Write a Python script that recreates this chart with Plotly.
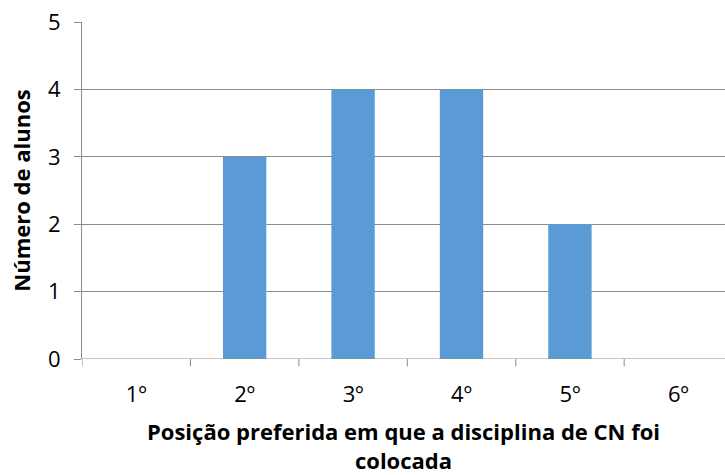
import plotly.graph_objects as go

# Data: number of students by preferred position of the CN subject
posicoes = ["1º", "2º", "3º", "4º", "5º", "6º"]
alunos = [0, 3, 4, 4, 2, 0]
y_ticks = [0, 1, 2, 3, 4, 5]

FONT = "Open Sans, Liberation Sans, sans-serif"
GRID = "#8c8c8c"

fig = go.Figure(
    go.Bar(
        x=list(range(len(posicoes))),
        y=alunos,
        marker=dict(color="#5B9BD5", line=dict(width=0)),
        width=0.4,
        hoverinfo="skip",
    )
)

fig.update_layout(
    width=725,
    height=475,
    margin=dict(l=82, r=0, t=22, b=116),
    plot_bgcolor="white",
    paper_bgcolor="white",
    showlegend=False,
    font=dict(family=FONT, color="#000000"),
)

fig.update_xaxes(
    tickmode="array",
    tickvals=list(range(len(posicoes))),
    ticktext=posicoes,
    range=[-0.5, 5.43],
    showgrid=False,
    zeroline=False,
    showline=False,
    ticks="",
    tickfont=dict(size=22),
    ticklabelstandoff=20,
    title=dict(
        text="<b>Posição preferida em que a disciplina de CN foi<br>colocada</b>",
        font=dict(size=22),
        standoff=22,
    ),
)

fig.update_yaxes(
    range=[0, 5],
    tickmode="array",
    tickvals=y_ticks,
    showgrid=True,
    gridcolor=GRID,
    gridwidth=1,
    zeroline=False,
    showline=True,
    linecolor=GRID,
    linewidth=1,
    ticks="outside",
    ticklen=7,
    tickcolor=GRID,
    tickfont=dict(size=22),
    ticklabelstandoff=9,
    title=dict(text="<b>Número de alunos</b>", font=dict(size=22), standoff=11),
)

# Baseline and category boundary tick marks
boundaries = [i - 0.5 for i in range(len(posicoes) + 1)]
fig.add_shape(
    type="line", xref="paper", yref="y", x0=0, x1=1, y0=0, y1=0,
    line=dict(color=GRID, width=1),
)
for b in boundaries:
    fig.add_shape(
        type="line", xref="x", yref="y domain",
        x0=b, x1=b, y0=0, y1=-0.022, line=dict(color=GRID, width=1),
    )

fig.write_html("out.html")
